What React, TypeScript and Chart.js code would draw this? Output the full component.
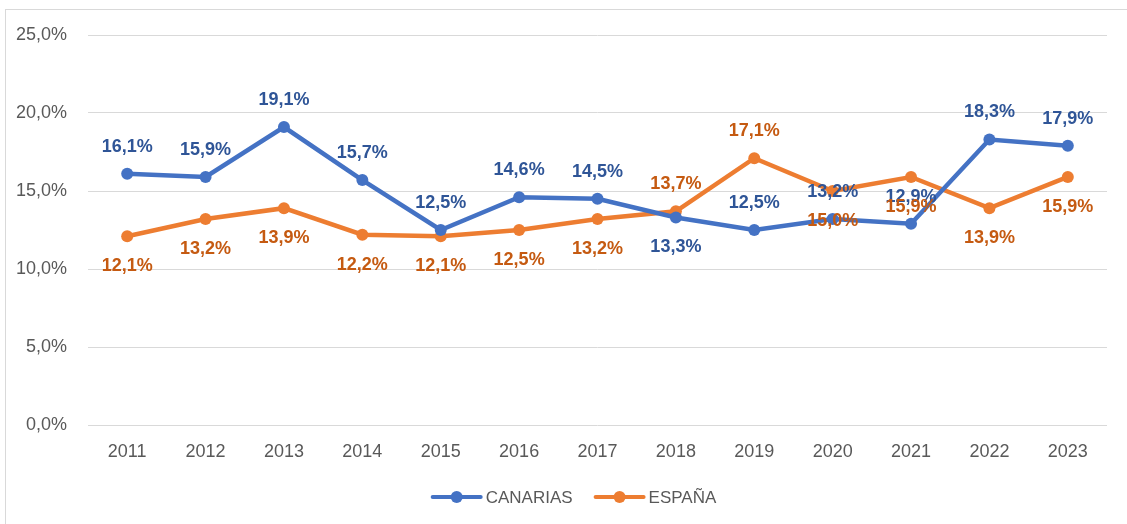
import React, { useEffect, useRef } from "react";
import { Chart, registerables } from "chart.js";

Chart.register(...registerables);

const years = ["2011", "2012", "2013", "2014", "2015", "2016", "2017", "2018", "2019", "2020", "2021", "2022", "2023"];
const canarias = [16.1, 15.9, 19.1, 15.7, 12.5, 14.6, 14.5, 13.3, 12.5, 13.2, 12.9, 18.3, 17.9];
const espana = [12.1, 13.2, 13.9, 12.2, 12.1, 12.5, 13.2, 13.7, 17.1, 15.0, 15.9, 13.9, 15.9];
// label side per point: 1 = above, -1 = below
const canariasLabelSide = [1, 1, 1, 1, 1, 1, 1, -1, 1, 1, 1, 1, 1];
const espanaLabelSide = [-1, -1, -1, -1, -1, -1, -1, 1, 1, -1, -1, -1, -1];
const yTicks = [0, 5, 10, 15, 20, 25];

const FONT = "'Liberation Sans', Arial, sans-serif";
const BLUE = "#4472C4";
const ORANGE = "#ED7D31";
const BLUE_TXT = "#2F5597";
const ORANGE_TXT = "#C55A11";

const fmt = (v: number) => v.toFixed(1).replace(".", ",") + "%";

const labelsPlugin = {
  id: "pointLabels",
  afterDatasetsDraw(chart: any) {
    const ctx = chart.ctx;
    const sides = [canariasLabelSide, espanaLabelSide];
    const colors = [BLUE_TXT, ORANGE_TXT];
    ctx.save();
    ctx.font = `bold 18px ${FONT}`;
    ctx.textAlign = "center";
    ctx.textBaseline = "middle";
    chart.data.datasets.forEach((ds: any, di: number) => {
      const meta = chart.getDatasetMeta(di);
      ctx.fillStyle = colors[di];
      meta.data.forEach((pt: any, i: number) => {
        const side = sides[di][i];
        const y = side > 0 ? pt.y - 27 : pt.y + 30;
        ctx.fillText(fmt(ds.data[i]), pt.x, y);
      });
    });
    ctx.restore();
  },
};

const legendPlugin = {
  id: "customLegend",
  afterDraw(chart: any) {
    const ctx = chart.ctx;
    ctx.save();
    ctx.font = `17px ${FONT}`;
    ctx.textBaseline = "middle";
    const items = chart.data.datasets.map((d: any) => ({ text: d.label, color: d.borderColor }));
    const lineW = 50;
    const gapText = 4;
    const gapItem = 22;
    const widths = items.map((it: any) => lineW + gapText + ctx.measureText(it.text).width);
    const total = widths.reduce((a: number, b: number) => a + b, 0) + gapItem * (items.length - 1);
    let x = 574 - total / 2;
    const y = 497;
    items.forEach((it: any, i: number) => {
      ctx.strokeStyle = it.color;
      ctx.lineWidth = 4;
      ctx.lineCap = "round";
      ctx.beginPath();
      ctx.moveTo(x + 1, y);
      ctx.lineTo(x + lineW - 1, y);
      ctx.stroke();
      ctx.fillStyle = it.color;
      ctx.beginPath();
      ctx.arc(x + lineW / 2, y, 6, 0, Math.PI * 2);
      ctx.fill();
      ctx.fillStyle = "#595959";
      ctx.fillText(it.text, x + lineW + gapText, y + 1);
      x += widths[i] + gapItem;
    });
    ctx.restore();
  },
};

export default function App() {
  const ref = useRef<HTMLCanvasElement>(null);
  useEffect(() => {
    document.body.style.margin = "0";
    document.body.style.overflow = "hidden";
    const chart = new Chart(ref.current!, {
      type: "line",
      data: {
        labels: years,
        datasets: [
          {
            label: "CANARIAS",
            data: canarias,
            borderColor: BLUE,
            backgroundColor: BLUE,
            borderWidth: 4.5,
            pointRadius: 6,
            pointBorderWidth: 0,
            pointBackgroundColor: BLUE,
            tension: 0,
          },
          {
            label: "ESPAÑA",
            data: espana,
            borderColor: ORANGE,
            backgroundColor: ORANGE,
            borderWidth: 4.5,
            pointRadius: 6,
            pointBorderWidth: 0,
            pointBackgroundColor: ORANGE,
            tension: 0,
          },
        ],
      },
      options: {
        animation: false,
        responsive: false,
        layout: { padding: { top: 35, right: 20, left: 0, bottom: 0 } },
        plugins: {
          legend: { display: false },
          tooltip: { enabled: false },
          title: { display: false },
        },
        scales: {
          x: {
            offset: true,
            grid: { display: false, drawTicks: false },
            border: { display: false },
            ticks: { color: "#595959", font: { family: FONT, size: 18 }, padding: 16 },
            afterFit: (s: any) => {
              s.height = 99;
            },
          },
          y: {
            min: 0,
            max: 25,
            afterBuildTicks: (s: any) => {
              s.ticks = yTicks.map((v) => ({ value: v }));
            },
            grid: { color: "#d9d9d9", lineWidth: 1, drawTicks: false },
            border: { display: false },
            ticks: {
              color: "#595959",
              font: { family: FONT, size: 18 },
              padding: 21,
              callback: (v: any) => fmt(Number(v)),
            },
            afterFit: (s: any) => {
              s.width = 88;
            },
          },
        },
      },
      plugins: [labelsPlugin, legendPlugin],
    });
    return () => chart.destroy();
  }, []);
  return (
    <div style={{ position: "relative", width: 1127, height: 524, overflow: "hidden", background: "#fff" }}>
      <div
        style={{
          position: "absolute",
          left: 5,
          top: 9,
          right: -10,
          bottom: -10,
          borderLeft: "1px solid #d9d9d9",
          borderTop: "1px solid #d9d9d9",
        }}
      />
      <canvas ref={ref} width={1127} height={524} style={{ position: "absolute", left: 0, top: 0 }} />
    </div>
  );
}
